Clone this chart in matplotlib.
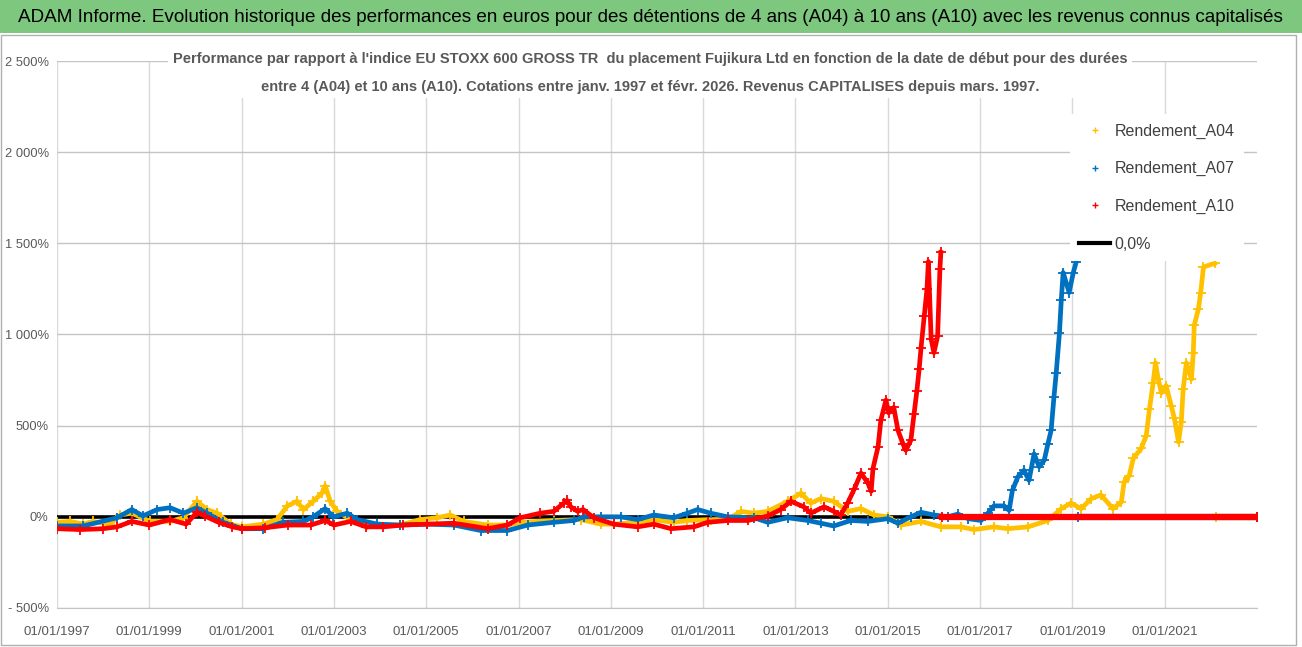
import numpy as np
import matplotlib
matplotlib.use('Agg')
import matplotlib.pyplot as plt
from matplotlib.lines import Line2D
from matplotlib.patches import Rectangle

plt.rcParams['font.family'] = ['Liberation Sans', 'DejaVu Sans']

# dates de debut (annees decimales) et performance relative en %
a04_x = [1997.0, 1997.28, 1997.57, 1997.78, 1998.15, 1998.37, 1998.62, 1999.02, 1999.45, 1999.74,
         2000.03, 2000.25, 2000.47, 2000.76, 2001.0, 2001.47, 2001.77, 2001.99, 2002.2, 2002.34,
         2002.55, 2002.74, 2002.81, 2002.92, 2003.07, 2003.36, 2003.72, 2004.44, 2004.87, 2005.24,
         2005.52, 2005.81, 2006.33, 2006.76, 2007.04, 2007.76, 2008.35, 2008.78, 2009.06, 2009.58,
         2009.93, 2010.36, 2010.66, 2011.16, 2011.53, 2011.82, 2012.1, 2012.4, 2012.83, 2013.12,
         2013.33, 2013.55, 2013.83, 2014.13, 2014.42, 2014.7, 2015.0, 2015.29, 2015.72, 2016.15,
         2016.59, 2016.87, 2017.3, 2017.6, 2018.04, 2018.47, 2018.76, 2018.97, 2019.19, 2019.41,
         2019.62, 2019.88, 2020.06, 2020.12, 2020.23, 2020.32, 2020.49, 2020.6, 2020.67, 2020.75,
         2020.8, 2020.86, 2020.93, 2021.03, 2021.14, 2021.21, 2021.3, 2021.36, 2021.4, 2021.47,
         2021.58, 2021.62, 2021.64, 2021.73, 2021.78, 2021.84, 2022.08]
a04_y = [-30, -25, -40, -25, -40, 10, 20, -25, -25, -5,
         85, 40, 20, -40, -55, -40, -15, 60, 85, 40,
         85, 130, 170, 85, 30, -15, -45, -45, -15, -5,
         10, -25, -45, -45, -30, -20, -15, -40, -40, -30,
         -15, -30, -20, -15, -15, 30, 20, 30, 85, 130,
         75, 100, 85, 30, 45, 10, 0, -45, -25, -55,
         -55, -70, -55, -65, -55, -20, 45, 75, 45, 100,
         120, 45, 80, 190, 225, 320, 375, 445, 590, 735,
         845, 755, 680, 720, 610, 540, 410, 520, 700, 845,
         755, 900, 1050, 1140, 1230, 1370, 1390]

a07_x = [1997.0, 1997.57, 1998.3, 1998.62, 1998.86, 1999.17, 1999.45, 1999.74, 2000.03, 2000.25,
         2000.6, 2001.0, 2001.47, 2001.9, 2002.34, 2002.55, 2002.81, 2002.99, 2003.29, 2003.5,
         2003.94, 2004.44, 2005.02, 2005.6, 2006.18, 2006.76, 2007.2, 2007.76, 2008.2, 2008.41,
         2008.78, 2009.21, 2009.58, 2009.93, 2010.36, 2010.66, 2010.88, 2011.16, 2011.53, 2012.1,
         2012.4, 2012.83, 2013.27, 2013.55, 2013.83, 2014.2, 2014.57, 2015.0, 2015.22, 2015.5,
         2015.72, 2016.0, 2016.3, 2016.52, 2016.74, 2017.02, 2017.17, 2017.3, 2017.52, 2017.63,
         2017.7, 2017.82, 2017.95, 2018.06, 2018.17, 2018.28, 2018.39, 2018.47, 2018.54, 2018.6,
         2018.65, 2018.72, 2018.76, 2018.8, 2018.93, 2019.02, 2019.08]
a07_y = [-50, -50, -5, 40, 5, 40, 50, 20, 50, 20,
         -30, -65, -65, -30, -25, 0, 45, 0, 20, -15,
         -40, -45, -40, -45, -75, -75, -45, -30, -20, 0,
         0, 0, -15, 10, -5, 20, 40, 20, 0, -5,
         -30, -5, -20, -35, -50, -20, -25, -10, -35, 0,
         25, 10, 0, 15, -10, -20, 20, 60, 60, 35,
         145, 220, 255, 200, 345, 275, 310, 400, 475, 655,
         790, 1010, 1190, 1340, 1230, 1340, 1395]

a10_x = [1997.0, 1997.5, 1998.0, 1998.3, 1998.62, 1999.0, 1999.45, 1999.8, 2000.03, 2000.2,
         2000.5, 2000.8, 2001.0, 2001.5, 2002.0, 2002.5, 2002.81, 2003.0, 2003.36, 2003.7,
         2004.07, 2004.5, 2005.02, 2005.6, 2006.33, 2006.76, 2007.04, 2007.47, 2007.76, 2007.98,
         2008.05, 2008.13, 2008.28, 2008.4, 2008.63, 2009.06, 2009.58, 2009.93, 2010.3, 2010.8,
         2011.1, 2011.53, 2011.97, 2012.4, 2012.68, 2012.9, 2013.18, 2013.33, 2013.62, 2013.83,
         2013.98, 2014.13, 2014.27, 2014.42, 2014.57, 2014.64, 2014.68, 2014.79, 2014.85, 2014.96,
         2015.02, 2015.13, 2015.22, 2015.33, 2015.39, 2015.5, 2015.57, 2015.63, 2015.68, 2015.72,
         2015.79, 2015.85, 2015.88, 2015.94, 2016.0, 2016.08, 2016.13, 2016.15]
a10_y = [-65, -70, -65, -55, -25, -45, -15, -40, 25, 5,
         -30, -55, -65, -60, -45, -45, -20, -45, -25, -55,
         -55, -45, -40, -35, -65, -45, -5, 20, 30, 75,
         90, 55, 30, 40, -5, -40, -55, -40, -65, -55,
         -30, -20, -20, 5, 40, 85, 55, 20, 55, 30,
         10, 75, 150, 240, 185, 140, 265, 385, 530, 640,
         570, 600, 475, 400, 365, 420, 565, 690, 810, 925,
         1100, 1250, 1400, 975, 900, 990, 1360, 1450]

# apres la fin de chaque periode la serie vaut 0
x_end = 2023.0
tails = {'A04': 2022.12, 'A07': 2019.12, 'A10': 2016.17}

series = [
    ('Rendement_A04', a04_x, a04_y, tails['A04'], '#FFC000'),
    ('Rendement_A07', a07_x, a07_y, tails['A07'], '#0070C0'),
    ('Rendement_A10', a10_x, a10_y, tails['A10'], '#FF0000'),
]

tick_years = [1997, 1999, 2001, 2003, 2005, 2007, 2009, 2011, 2013, 2015, 2017, 2019, 2021]
y_ticks = [-500, 0, 500, 1000, 1500, 2000, 2500]
y_labels = ['- 500%', '0%', '500%', '1 000%', '1 500%', '2 000%', '2 500%']

W, H = 1302, 647
fig = plt.figure(figsize=(W / 100, H / 100), dpi=100)


def fx(px):
    return px / W


def fy(py):
    return 1 - py / H


# bandeau vert + cadre
fig.patches.append(Rectangle((0, fy(33)), 1, 33 / H, transform=fig.transFigure,
                             facecolor='#7ec77e', edgecolor='none', zorder=0))
fig.patches.append(Rectangle((fx(1), fy(645)), fx(1296) - fx(1), (645 - 35) / H,
                             transform=fig.transFigure, facecolor='none',
                             edgecolor='#b0b0b0', lw=1, zorder=0))
fig.text(fx(18), fy(17),
         "ADAM Informe. Evolution historique des performances en euros pour des détentions "
         "de 4 ans (A04) à 10 ans (A10) avec les revenus connus capitalisés",
         fontsize=13.6, ha='left', va='center', color='black')

ax = fig.add_axes([fx(57), fy(608), fx(1257) - fx(57), (608 - 61) / H])

ax.axhline(0, color='black', lw=2.6, zorder=2)
for i, (name, xs, ys, tail, col) in enumerate(series):
    ax.plot(xs, ys, color=col, lw=3.4, marker='+', ms=7, mew=1.3, zorder=3 + i)
    ax.plot([tail, x_end], [0, 0], color=col, lw=4.5, marker='+', ms=7, mew=1.3,
            zorder=3 + i)

ax.set_xlim(1997.0, x_end)
ax.set_ylim(-500, 2500)
ax.set_xticks(tick_years)
ax.set_xticklabels(['01/01/%d' % y for y in tick_years])
ax.set_yticks(y_ticks)
ax.set_yticklabels(y_labels)
ax.tick_params(length=0, colors='#595959')
ax.tick_params(axis='x', pad=13, labelsize=9.5)
ax.tick_params(axis='y', pad=6, labelsize=9.3)
ax.grid(axis='x', color='#d9d9d9', lw=1)
ax.grid(axis='y', color='#c4c4c4', lw=1)
ax.set_axisbelow(True)
for s in ['top', 'right', 'left']:
    ax.spines[s].set_visible(False)
ax.spines['bottom'].set_color('#c4c4c4')

handles = [Line2D([], [], ls='none', marker='+', color=c, ms=5, mew=1)
           for (_, _, _, _, c) in series]
handles.append(Line2D([], [], color='black', lw=3))
labels = [s[0] for s in series] + ['0,0%']
leg = ax.legend(handles, labels, loc='upper right', bbox_to_anchor=(1.0, (608 - 101) / 547),
                frameon=True, facecolor='white', edgecolor='none', fancybox=False,
                framealpha=1, fontsize=11.5, labelspacing=1.42, handlelength=1.9,
                handletextpad=0.3, borderpad=0.6, borderaxespad=0.8, labelcolor='#404040')
leg.set_zorder(20)

fig.text(fx(650), fy(73),
         "Performance par rapport à l'indice EU STOXX 600 GROSS TR  du placement Fujikura Ltd "
         "en fonction de la date de début pour des durées\n"
         "entre 4 (A04) et 10 ans (A10). Cotations entre janv. 1997 et févr. 2026. "
         "Revenus CAPITALISES depuis mars. 1997.",
         fontsize=10.5, fontweight='bold', color='#595959', ha='center', va='center',
         linespacing=2.2, zorder=5,
         bbox=dict(facecolor='white', edgecolor='none', pad=3))

fig.savefig('out.png', dpi=100)
